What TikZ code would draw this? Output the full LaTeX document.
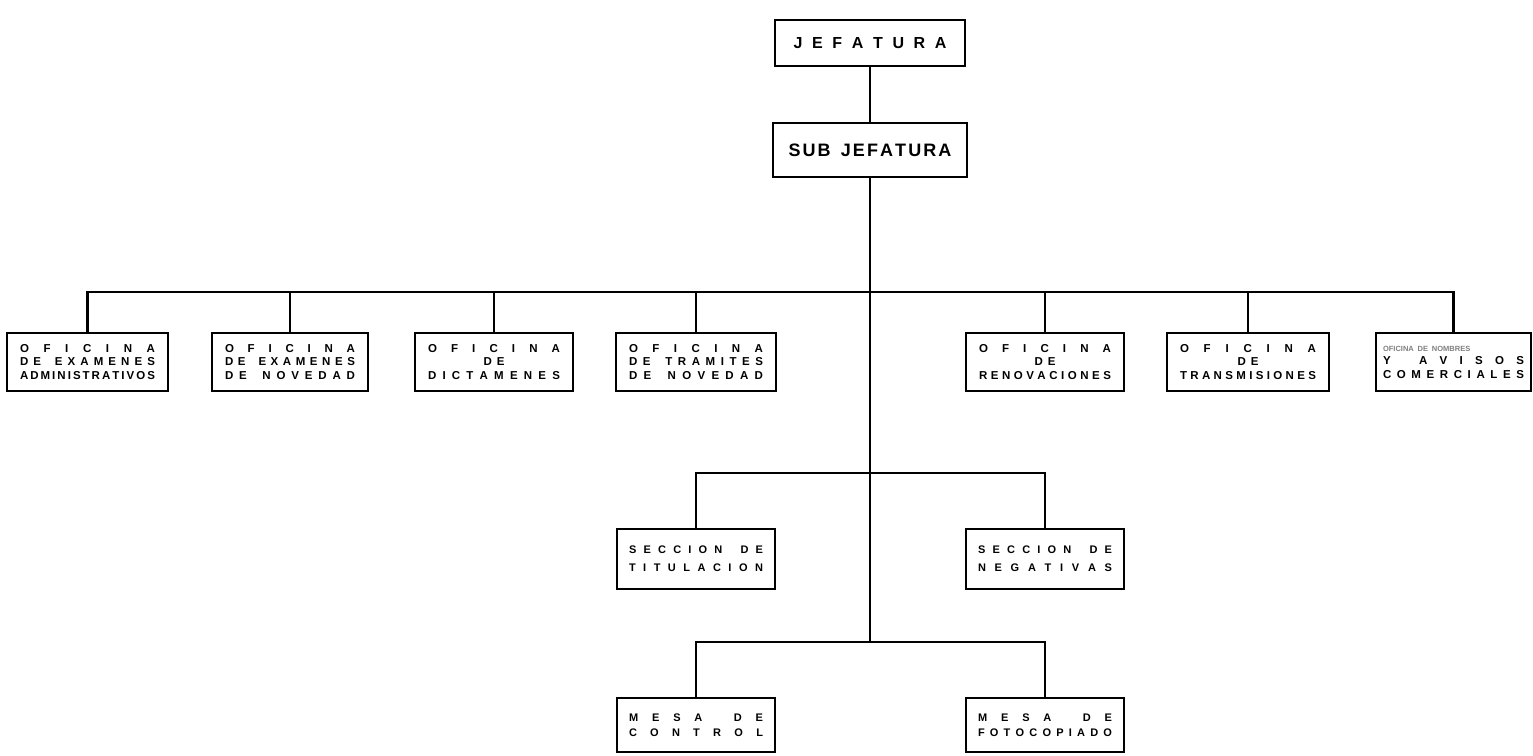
\documentclass[tikz,border=0pt]{standalone}
\usepackage{fontspec}
\setmainfont{Liberation Sans}

% one line of letters spread evenly over the text width
\makeatletter
\newcommand\spr[1]{\leavevmode\hbox to\linewidth{\spr@#1\@nil}\par}
\def\spr@#1#2\@nil{#1\ifx\relax#2\relax\else\hfil\spr@#2\@nil\fi}
\makeatother
\newcommand\ctrline[1]{\leavevmode\hbox to\linewidth{\hfil#1\hfil}\par}
\newcommand\lftline[1]{\leavevmode\hbox to\linewidth{#1\hfil}\par}

\tikzset{
  link/.style={line width=2.2},
  unit/.style={draw, line width=2, rectangle, inner sep=0pt,
    font=\bfseries\fontsize{11.5}{13.5}\selectfont},
  office/.style={unit, minimum height=58},
  section/.style={unit, minimum height=60, font=\bfseries\fontsize{11}{18}\selectfont},
  desk/.style={unit, minimum height=54, font=\bfseries\fontsize{11}{15}\selectfont},
}

\begin{document}
\begin{tikzpicture}[x=1pt, y=-1pt]
  \fill[white] (0,0) rectangle (1533,755);
  \useasboundingbox (0,0) rectangle (1533,755);

  % head of the office
  \node[unit, minimum width=190, minimum height=46, text width=153,
        font=\bfseries\fontsize{16}{18}\selectfont] (jef) at (870,43) {\spr{JEFATURA}};
  \node[unit, minimum width=194, minimum height=54, text width=163,
        font=\bfseries\fontsize{18}{20}\selectfont] (sub) at (870,150) {\spr{SUB~JEFATURA}};

  % offices
  \node[office, minimum width=161, text width=135] (o1) at (87.5,362)
    {\spr{OFICINA}\spr{DE~EXAMENES}\spr{ADMINISTRATIVOS}};
  \node[office, minimum width=156, text width=130] (o2) at (290,362)
    {\spr{OFICINA}\spr{DE~EXAMENES}\spr{DE~NOVEDAD}};
  \node[office, minimum width=158, text width=132] (o3) at (494,362)
    {\spr{OFICINA}\ctrline{D\hspace{5pt}E}\spr{DICTAMENES}};
  \node[office, minimum width=160, text width=134] (o4) at (696,362)
    {\spr{OFICINA}\spr{DE~TRAMITES}\spr{DE~NOVEDAD}};
  \node[office, minimum width=158, text width=132] (o5) at (1045,362)
    {\spr{OFICINA}\ctrline{D\hspace{5pt}E}\spr{RENOVACIONES}};
  \node[office, minimum width=162, text width=136] (o6) at (1248,362)
    {\spr{OFICINA}\ctrline{D\hspace{5pt}E}\spr{TRANSMISIONES}};
  \node[office, minimum width=155, text width=141] (o7) at (1453.5,362)
    {\lftline{\color{gray}\fontsize{7.5}{13.5}\selectfont OFICINA DE NOMBRES}\spr{Y~AVISOS}\spr{COMERCIALES}};

  % sections
  \node[section, minimum width=158, text width=134] (s1) at (696,559)
    {\spr{SECCION~DE}\spr{TITULACION}};
  \node[section, minimum width=158, text width=134] (s2) at (1045,559)
    {\spr{SECCION~DE}\spr{NEGATIVAS}};

  % desks
  \node[desk, minimum width=158, text width=134] (m1) at (696,725)
    {\spr{MESA~DE}\spr{CONTROL}};
  \node[desk, minimum width=158, text width=134] (m2) at (1045,725)
    {\spr{MESA~DE}\spr{FOTOCOPIADO}};

  % junctions on the main line
  \coordinate (bus) at (870,292);
  \coordinate (sbus) at (870,473);
  \coordinate (mbus) at (870,642);

  % connectors
  \draw[link] (jef) -- (sub);
  \draw[link] (sub) -- (mbus);
  \draw[link] (o1.north) |- (bus) -| (o7.north);
  \foreach \o in {o2,o3,o4,o5,o6}
    \draw[link] (\o.north) -- (\o.north |- bus);
  \draw[link] (s1.north) |- (sbus) -| (s2.north);
  \draw[link] (m1.north) |- (mbus) -| (m2.north);
\end{tikzpicture}
\end{document}
